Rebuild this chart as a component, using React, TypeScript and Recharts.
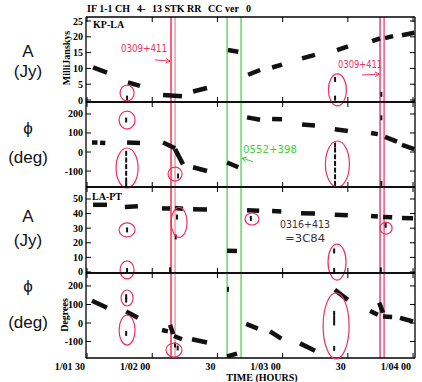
import React from "react";
import { ComposedChart, Scatter, XAxis, YAxis, ReferenceLine, ReferenceDot } from "recharts";

type Seg = [number, number, number, number]; // t start, t end, value start, value end
type Pt = [number, number];

const W = 422;
const H = 382;
const SERIF = "'Liberation Serif', 'Times New Roman', serif";
const SANS = "'Liberation Sans', Arial, sans-serif";
const HAND = "'DejaVu Sans', sans-serif";
const INK_RED = "#ee2f62";

// time axis, hours of day 1
const X_DOMAIN: [number, number] = [1.492, 4.015];
const X_TICKS = [1.5, 2, 2.5, 3, 3.5, 4];
const X_TICK_LABELS = ["1/01 30", "1/02 00", "30", "1/03 00", "30", "1/04 00"];

// flagged scan markers
const RED_LINES = [2.144, 2.175, 3.747, 3.778];
const RED_LINE_COLORS = ["#f2203c", "#f590a4", "#e8336c", "#ec4c80"];
const GREEN_LINES = [2.574, 2.681];

// KP-LA amplitude (mJy)
const KP_LA_AMP: Seg[] = [
  [1.546, 1.653, 10.3, 8.7],
  [1.814, 1.906, 5.6, 4.5],
  [2.083, 2.228, 1.6, 1.2],
  [2.313, 2.42, 2.7, 3.8],
  [2.58, 2.66, 15.8, 15.3],
  [2.735, 2.827, 8.0, 9.5],
  [2.919, 2.995, 10.3, 11.2],
  [3.149, 3.248, 13.2, 14.3],
  [3.417, 3.501, 15.8, 17.0],
  [3.686, 3.747, 18.6, 19.5],
  [3.785, 3.847, 19.6, 20.2],
  [3.915, 4.01, 20.5, 21.3],
];
const KP_LA_AMP_PTS: Pt[] = [[1.807, 0.6], [3.402, 0.6], [3.402, 6.5], [3.757, 1.8]];

// KP-LA phase (deg)
const KP_LA_PHS: Seg[] = [
  [1.538, 1.58, 50, 50],
  [1.6, 1.64, 49, 48],
  [1.807, 1.906, 50, 48],
  [2.083, 2.175, 50, 20],
  [2.175, 2.236, 15, -65],
  [2.313, 2.42, -80, -100],
  [2.574, 2.66, -55, -80],
  [2.727, 2.827, 182, 170],
  [2.919, 2.995, 174, 172],
  [3.149, 3.248, 145, 140],
  [3.4, 3.5, 120, 110],
  [3.678, 3.73, 100, 94],
  [3.785, 3.877, 80, 55],
  [3.915, 4.01, 38, 15],
];
const KP_LA_PHS_PTS: Pt[] = [
  [1.8, 168], [1.8, -7], [1.8, -42], [1.8, -77], [1.8, -112], [1.8, -147], [1.8, -172],
  [2.198, -126], [3.402, 37], [3.402, 10], [3.402, -25], [3.402, -60], [3.402, -95],
  [3.402, -130], [3.402, -165], [3.757, 180], [3.757, -165],
];

// LA-PT amplitude (Jy)
const LA_PT_AMP: Seg[] = [
  [1.546, 1.653, 46, 46],
  [1.79, 1.89, 44.5, 45],
  [2.075, 2.137, 43.5, 43.5],
  [2.175, 2.236, 43.8, 43.3],
  [2.313, 2.42, 43, 42.8],
  [2.574, 2.65, 14.5, 14.3],
  [2.727, 2.82, 42.3, 42],
  [2.919, 2.99, 41.7, 41.5],
  [3.141, 3.248, 40.3, 40],
  [3.4, 3.5, 39.2, 38.8],
  [3.678, 3.73, 38.3, 38],
  [3.77, 3.84, 37.7, 37.4],
  [3.915, 4.0, 36.9, 36.8],
];
const LA_PT_AMP_PTS: Pt[] = [
  [1.807, 28.8], [1.807, 1.0], [2.137, 1.5], [2.19, 37.6], [2.18, 24],
  [2.756, 36.7], [3.395, 14.4], [3.395, 1.0], [3.753, 1.4], [3.79, 32],
];

// LA-PT phase (deg)
const LA_PT_PHS: Seg[] = [
  [1.538, 1.653, 120, 82],
  [1.8, 1.89, 62, 28],
  [2.075, 2.12, -38, -45],
  [2.137, 2.16, -10, -60],
  [2.167, 2.228, -70, -88],
  [2.305, 2.42, -88, -105],
  [2.574, 2.65, -180, -165],
  [2.72, 2.81, -5, -30],
  [2.903, 2.99, -45, -85],
  [3.133, 3.248, -110, -150],
  [3.4, 3.5, 180, 125],
  [3.67, 3.73, 65, 45],
  [3.74, 3.77, 110, 55],
  [3.77, 3.84, 35, 33],
  [3.9, 4.0, 28, 8],
];
const LA_PT_PHS_PTS: Pt[] = [
  [1.8, 142], [1.8, 124], [1.8, -56], [2.175, -119], [2.195, -135],
  [2.581, 182], [3.395, 52], [3.395, 25], [3.395, 0], [3.395, -137],
];

// hand-drawn rings: t, value, rx px, ry px
type Ring = [number, number, number, number];
const KP_LA_AMP_RINGS: Ring[] = [[1.807, 2.2, 7, 8], [3.42, 3.2, 9, 16]];
const KP_LA_PHS_RINGS: Ring[] = [[1.807, 168, 8, 9], [1.807, -84, 11, 20], [2.175, -116, 7, 7], [3.42, -63, 12, 23]];
const LA_PT_AMP_RINGS: Ring[] = [[1.807, 28.8, 8, 7], [1.807, 1.4, 7, 9], [2.206, 34, 8, 15], [2.765, 36.3, 7, 6], [3.417, 6.8, 9, 18], [3.793, 30, 6, 6]];
const LA_PT_PHS_RINGS: Ring[] = [[1.807, 135, 6, 8], [1.807, -38, 8, 15], [2.167, -146, 8, 7], [3.41, -16, 13, 33]];

type Note = { t: number; v: number; text: string; color: string; width: number };
type Arrow = { from: Pt; to: Pt; color: string };

type Panel = {
  top: number;
  bottom: number;
  domain: [number, number];
  ticks: number[];
  segs: Seg[];
  pts: Pt[];
  rings: Ring[];
  notes: Note[];
  arrows: Arrow[];
  last?: boolean;
};

const PANELS: Panel[] = [
  {
    top: 17, bottom: 102, domain: [-0.63, 26.27], ticks: [0, 5, 10, 15, 20, 25],
    segs: KP_LA_AMP, pts: KP_LA_AMP_PTS, rings: KP_LA_AMP_RINGS,
    notes: [
      { t: 1.937, v: 15.2, text: "0309+411", color: INK_RED, width: 46 },
      { t: 3.594, v: 10.1, text: "0309+411", color: INK_RED, width: 44 },
    ],
    arrows: [
      { from: [2.021, 12.7], to: [2.137, 12.3], color: INK_RED },
      { from: [3.609, 7.9], to: [3.742, 8.2], color: INK_RED },
    ],
  },
  {
    top: 102, bottom: 187, domain: [-184, 263], ticks: [-100, 0, 100, 200],
    segs: KP_LA_PHS, pts: KP_LA_PHS_PTS, rings: KP_LA_PHS_RINGS,
    notes: [{ t: 2.903, v: -5, text: "0552+398", color: "#3cd23c", width: 54 }],
    arrows: [{ from: [2.773, -51], to: [2.689, -32], color: "#3cd23c" }],
  },
  {
    top: 187, bottom: 273, domain: [-0.7, 58.2], ticks: [0, 10, 20, 30, 40, 50],
    segs: LA_PT_AMP, pts: LA_PT_AMP_PTS, rings: LA_PT_AMP_RINGS,
    notes: [
      { t: 3.172, v: 30.1, text: "0316+413", color: "#3a3036", width: 50 },
      { t: 3.172, v: 20.8, text: "=3C84", color: "#3a3036", width: 40 },
    ],
    arrows: [],
  },
  {
    top: 273, bottom: 358, domain: [-189, 270], ticks: [-100, 0, 100, 200],
    segs: LA_PT_PHS, pts: LA_PT_PHS_PTS, rings: LA_PT_PHS_RINGS,
    notes: [], arrows: [], last: true,
  },
];

const AXIS = { stroke: "#000", strokeWidth: 1.3 };
const TICK_TEXT = { fontSize: 10, fontWeight: 700, fontFamily: SERIF, fill: "#000" };

const LeftTick = (p: any) => (
  <g>
    <line x1={p.x} x2={p.x + 5} y1={p.y} y2={p.y} stroke="#000" />
    <text x={p.x - 3} y={p.y} dy={3.5} textAnchor="end" {...TICK_TEXT}>{p.payload.value}</text>
  </g>
);
const RightTick = (p: any) => <line x1={p.x} x2={p.x - 5} y1={p.y} y2={p.y} stroke="#000" />;
const TopTick = (p: any) => <line x1={p.x} x2={p.x} y1={p.y} y2={p.y + 5} stroke="#000" />;
const makeBottomTick = (showLabel: boolean) => (p: any) => (
  <g>
    <line x1={p.x} x2={p.x} y1={p.y} y2={p.y - 5} stroke="#000" />
    {showLabel && (
      <text x={p.x - 2} y={p.y} dy={12} textAnchor="end" {...TICK_TEXT}>
        {X_TICK_LABELS[p.index]}
      </text>
    )}
  </g>
);

const Blip = (p: any) => <rect x={p.cx - 1} y={p.cy - 2.5} width={2} height={5} fill="#111" />;
const NoDot = () => <g />;

const arrowShape = (color: string) => (p: any) => {
  const { x1, y1, x2, y2 } = p;
  const a = Math.atan2(y2 - y1, x2 - x1);
  const h = 5;
  const ax = x2 - h * Math.cos(a - 0.5);
  const ay = y2 - h * Math.sin(a - 0.5);
  const bx = x2 - h * Math.cos(a + 0.5);
  const by = y2 - h * Math.sin(a + 0.5);
  return (
    <g>
      <line x1={x1} y1={y1} x2={x2} y2={y2} stroke={color} strokeWidth={1} />
      <polyline points={`${ax},${ay} ${x2},${y2} ${bx},${by}`} fill="none" stroke={color} strokeWidth={1} />
    </g>
  );
};

const PanelChart = ({ panel }: { panel: Panel }) => (
  <div style={{ position: "absolute", left: 0, top: 0 }}>
    <ComposedChart
      width={W}
      height={H}
      margin={{ top: panel.top - 1, bottom: H - panel.bottom - 1, left: 85, right: W - 416 }}
    >
      <XAxis xAxisId="b" dataKey="t" type="number" domain={X_DOMAIN} ticks={X_TICKS} allowDataOverflow
        height={1} tickSize={0} tickMargin={0} tickLine={false} axisLine={AXIS} interval={0}
        tick={makeBottomTick(!!panel.last)} />
      <XAxis xAxisId="t" orientation="top" dataKey="t" type="number" domain={X_DOMAIN} ticks={X_TICKS} allowDataOverflow
        height={1} tickSize={0} tickMargin={0} tickLine={false} axisLine={AXIS} interval={0} tick={TopTick} />
      <YAxis yAxisId="l" dataKey="v" type="number" domain={panel.domain} ticks={panel.ticks} allowDataOverflow
        width={1} tickSize={0} tickMargin={0} tickLine={false} axisLine={AXIS} interval={0} tick={LeftTick} />
      <YAxis yAxisId="r" orientation="right" type="number" domain={panel.domain} ticks={panel.ticks} allowDataOverflow
        width={1} tickSize={0} tickMargin={0} tickLine={false} axisLine={AXIS} interval={0} tick={RightTick} />

      {GREEN_LINES.map((t) => (
        <ReferenceLine key={`g${t}`} xAxisId="b" yAxisId="l" x={t} stroke="#4cd34c" strokeWidth={1.3} />
      ))}
      {RED_LINES.map((t, i) => (
        <ReferenceLine key={`r${t}`} xAxisId="b" yAxisId="l" x={t} stroke={RED_LINE_COLORS[i]} strokeWidth={1.4} />
      ))}

      {panel.segs.map((s, i) => (
        <Scatter key={i} xAxisId="b" yAxisId="l" data={[{ t: s[0], v: s[2] }, { t: s[1], v: s[3] }]}
          dataKey="v" line={{ stroke: "#111", strokeWidth: 4.5 }} shape={NoDot} isAnimationActive={false} />
      ))}
      <Scatter xAxisId="b" yAxisId="l" data={panel.pts.map(([t, v]) => ({ t, v }))} dataKey="v"
        shape={Blip} isAnimationActive={false} />

      {panel.rings.map((r, i) => (
        <ReferenceDot key={`o${i}`} xAxisId="b" yAxisId="l" x={r[0]} y={r[1]} r={1} ifOverflow="visible"
          shape={(p: any) => (
            <ellipse cx={p.cx} cy={p.cy} rx={r[2]} ry={r[3]} fill="none" stroke={INK_RED} strokeWidth={1.2} />
          )} />
      ))}
      {panel.notes.map((n, i) => (
        <ReferenceDot key={`n${i}`} xAxisId="b" yAxisId="l" x={n.t} y={n.v} r={1} ifOverflow="visible"
          shape={(p: any) => (
            <text x={p.cx} y={p.cy} textAnchor="middle" fontFamily={HAND} fontSize={11} fill={n.color}
              textLength={n.width} lengthAdjust="spacingAndGlyphs">{n.text}</text>
          )} />
      ))}
      {panel.arrows.map((a, i) => (
        <ReferenceLine key={`a${i}`} xAxisId="b" yAxisId="l" ifOverflow="visible"
          segment={[{ x: a.from[0], y: a.from[1] }, { x: a.to[0], y: a.to[1] }]}
          shape={arrowShape(a.color)} />
      ))}
    </ComposedChart>
  </div>
);

const bigLabel = { fontFamily: SANS, fontSize: 17, fill: "#111", textAnchor: "middle" as const };
const axisTitle = { fontFamily: SERIF, fontSize: 10, fontWeight: 700, fill: "#000", textAnchor: "middle" as const };

export default function App() {
  return (
    <div style={{ position: "fixed", left: 0, top: 0, width: W, height: H, background: "#fff" }}>
      {PANELS.map((p, i) => (
        <PanelChart key={i} panel={p} />
      ))}
      <svg width={W} height={H} style={{ position: "absolute", left: 0, top: 0, pointerEvents: "none" }}>
        <g fontFamily={SERIF} fontSize={10} fontWeight={700}>
          <text x={87} y={12}>IF 1-1 CH</text>
          <text x={137} y={12}>4-</text>
          <text x={152} y={12}>13 STK RR</text>
          <text x={208} y={12}>CC ver</text>
          <text x={246} y={12}>0</text>
          <text x={93} y={28}>KP-LA</text>
          <text x={92} y={200}>LA-PT</text>
        </g>
        <text x={28} y={57} {...bigLabel}>A</text>
        <text x={28} y={77} {...bigLabel}>(Jy)</text>
        <text x={28} y={134} {...bigLabel}>ϕ</text>
        <text x={28} y={163} {...bigLabel}>(deg)</text>
        <text x={28} y={222} {...bigLabel}>A</text>
        <text x={28} y={246} {...bigLabel}>(Jy)</text>
        <text x={28} y={292} {...bigLabel}>ϕ</text>
        <text x={28} y={328} {...bigLabel}>(deg)</text>
        <text x={70} y={58} transform="rotate(-90 70 58)" {...axisTitle}>MilliJanskys</text>
        <text x={68} y={315} transform="rotate(-90 68 315)" {...axisTitle}>Degrees</text>
        <text x={262} y={381} {...axisTitle}>TIME (HOURS)</text>
      </svg>
    </div>
  );
}
